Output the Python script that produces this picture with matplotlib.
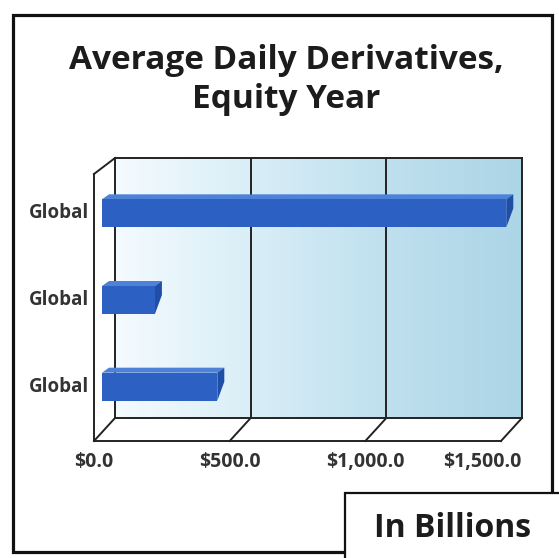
import numpy as np
import matplotlib
matplotlib.use("Agg")
import matplotlib.pyplot as plt
from matplotlib.patches import Rectangle, Polygon
from matplotlib.colors import LinearSegmentedColormap

# data
categories = ["Global", "Global", "Global"]   # bottom to top
values = [425, 195, 1490]                       # billions
tick_values = [0, 500, 1000, 1500]
tick_labels = ["$0.0", "$500.0", "$1,000.0", "$1,500.0"]

W, H = 559, 558
plt.rcParams['font.family'] = ['Open Sans', 'DejaVu Sans']

fig = plt.figure(figsize=(W / 100, H / 100), dpi=100)

# full-figure axes in pixel units for the frame, title and note box
bg = fig.add_axes([0, 0, 1, 1])
bg.set_xlim(0, W)
bg.set_ylim(H, 0)
bg.axis("off")

bg.add_patch(Rectangle((13, 15), 539, 537, fill=False, ec="#111111", lw=2.3, zorder=2))
bg.text(286, 69, "Average Daily Derivatives,", ha="center", va="baseline",
        fontsize=24, fontweight="bold", color="#1c1c1c")
bg.text(286, 108, "Equity Year", ha="center", va="baseline",
        fontsize=24, fontweight="bold", color="#1c1c1c")

bg.add_patch(Rectangle((345, 493), 260, 100, fc="white", ec="#111111", lw=1.6, zorder=5))
bg.text(453, 537, "In Billions", ha="center", va="baseline",
        fontsize=23, fontweight="bold", color="#1c1c1c", zorder=6)

# back wall of the 3d box
x0, x1, y0, y1 = 115, 522, 158, 418
ax = fig.add_axes([x0 / W, 1 - y1 / H, (x1 - x0) / W, (y1 - y0) / H])
ax.set_xlim(0, 1500)
ax.set_ylim(-0.5, 2.5)
ax.set_xticks([])
ax.set_yticks([])
for s in ax.spines.values():
    s.set_color("#222222")
    s.set_linewidth(1.4)

sx = 1500 / (x1 - x0)      # data units per pixel, x
sy = 3.0 / (y1 - y0)       # data units per pixel, y

grad = LinearSegmentedColormap.from_list(
    "wall", ["#f4fbfe", "#d9eef7", "#bfe0ee", "#acd5e6"])
ramp = np.linspace(0, 1, 256).reshape(1, -1)
ax.imshow(ramp, cmap=grad, extent=(0, 1500, -0.5, 2.5), aspect="auto", zorder=0)

for v in tick_values[1:-1]:
    ax.axvline(v, color="#222222", lw=1.4, zorder=1)

# front edges of the box
fx = -21 * sx
fy_bot = -0.5 - 23 * sy
fy_top = 2.5 - 16 * sy
line_kw = dict(color="#222222", lw=1.4, clip_on=False, zorder=1)
ax.plot([fx, fx], [fy_top, fy_bot], **line_kw)
ax.plot([0, fx], [2.5, fy_top], **line_kw)
ax.plot([fx, 1500 + fx], [fy_bot, fy_bot], **line_kw)
for v in tick_values:
    ax.plot([v, v + fx], [-0.5, fy_bot], **line_kw)

# bars as simple prisms
bx, by = -13 * sx, -12 * sy
dx, dy = 7 * sx, 5 * sy
bh = 28 * sy
for i, v in enumerate(values):
    yb, yt = i + by - bh / 2, i + by + bh / 2
    ax.add_patch(Polygon([(bx, yt), (bx + dx, yt + dy), (v + bx + dx, yt + dy), (v + bx, yt)],
                         closed=True, fc="#4d82d8", ec="none", zorder=3, clip_on=False))
    ax.add_patch(Polygon([(v + bx, yt), (v + bx + dx, yt + dy), (v + bx + dx, yb + dy + bh * 0.5),
                          (v + bx, yb)], closed=True, fc="#1f4ea6", ec="none", zorder=3, clip_on=False))
    ax.add_patch(Rectangle((bx, yb), v, bh, fc="#2c60c2", ec="none", zorder=4, clip_on=False))
    ax.text(fx - 5 * sx, i + by, categories[i], ha="right", va="center",
            fontsize=13.5, fontweight="bold", color="#333333", clip_on=False)

# value axis labels under the floor
for v, lab in zip(tick_values, tick_labels):
    if v == tick_values[-1]:
        ax.text(v, -0.5 - 44 * sy, lab, ha="right", va="center",
                fontsize=14, fontweight="bold", color="#333333")
    else:
        ax.text(v + fx, -0.5 - 44 * sy, lab, ha="center", va="center",
                fontsize=14, fontweight="bold", color="#333333")

fig.savefig("out.png", dpi=100)
